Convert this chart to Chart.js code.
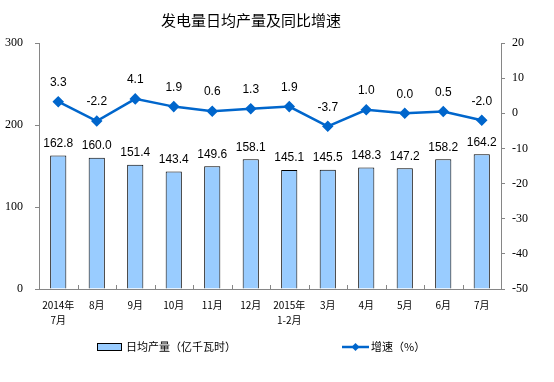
<!DOCTYPE html>
<html><head><meta charset="utf-8">
<script src="https://cdn.jsdelivr.net/npm/chart.js@4.4.1/dist/chart.umd.min.js"></script>
<style>html,body{margin:0;padding:0;background:#fff}</style>
</head><body>
<canvas id="c" width="554" height="382"></canvas>
<script>
const categories = [["2014年","7月"],"8月","9月","10月","11月","12月",["2015年","1-2月"],"3月","4月","5月","6月","7月"];
const dailyOutput = [162.8,160.0,151.4,143.4,149.6,158.1,145.1,145.5,148.3,147.2,158.2,164.2];
const growthRate = [3.3,-2.2,4.1,1.9,0.6,1.3,1.9,-3.7,1.0,0.0,0.5,-2.0];
const leftTicks = [0,100,200,300];
const rightTicks = [-50,-40,-30,-20,-10,0,10,20];
const titleText = "发电量日均产量及同比增速";
const barLegend = "日均产量（亿千瓦时）";
const lineLegend = "增速（%）";

const BAR_FILL = "#99CCFF", LINE_COL = "#0066CC", AXIS_COL = "#868686";
const CJK = '"Noto Sans CJK SC", sans-serif';

const extras = {
  id: "extras",
  afterDraw(chart) {
    const ctx = chart.ctx;
    const ca = chart.chartArea;
    ctx.save();
    // title
    ctx.fillStyle = "#000";
    ctx.font = "15px " + CJK;
    ctx.textAlign = "center";
    ctx.textBaseline = "middle";
    ctx.fillText(titleText, 251, 20);
    // x-axis small ticks between categories (pointing up)
    const xs = chart.scales.x;
    ctx.strokeStyle = AXIS_COL;
    ctx.lineWidth = 1;
    for (let i = 0; i <= categories.length; i++) {
      const px = Math.round(xs.getPixelForValue(i - 0.5)) + 0.5;
      ctx.beginPath(); ctx.moveTo(px, ca.bottom); ctx.lineTo(px, ca.bottom - 4); ctx.stroke();
    }
    // data labels
    ctx.font = "12px 'Liberation Sans', Arial, sans-serif";
    ctx.fillStyle = "#000";
    ctx.textAlign = "center";
    ctx.textBaseline = "middle";
    chart.getDatasetMeta(0).data.forEach((el, i) => {
      ctx.fillText(dailyOutput[i].toFixed(1), el.x, el.y - 12);
    });
    chart.getDatasetMeta(1).data.forEach((el, i) => {
      ctx.fillText(growthRate[i].toFixed(1), el.x, el.y - 19);
    });
    // legend
    const ly = 347;
    ctx.fillStyle = BAR_FILL; ctx.strokeStyle = "#000"; ctx.lineWidth = 1;
    ctx.fillRect(97.5, ly - 3.5, 24, 7); ctx.strokeRect(97.5, ly - 3.5, 24, 7);
    ctx.fillStyle = "#000";
    ctx.font = "11px " + CJK;
    ctx.textAlign = "left";
    ctx.fillText(barLegend, 126, ly);
    ctx.strokeStyle = LINE_COL; ctx.lineWidth = 2.5;
    ctx.beginPath(); ctx.moveTo(342, ly); ctx.lineTo(369, ly); ctx.stroke();
    ctx.fillStyle = LINE_COL;
    ctx.beginPath(); ctx.moveTo(355.5, ly - 4); ctx.lineTo(359.5, ly); ctx.lineTo(355.5, ly + 4); ctx.lineTo(351.5, ly); ctx.closePath(); ctx.fill();
    ctx.fillStyle = "#000";
    ctx.fillText(lineLegend, 371, ly);
    ctx.restore();
  }
};

new Chart(document.getElementById("c"), {
  type: "bar",
  data: {
    labels: categories,
    datasets: [
      { type: "bar", data: dailyOutput, yAxisID: "y", backgroundColor: BAR_FILL, borderColor: "#000", borderWidth: 1,
        categoryPercentage: 1, barPercentage: 0.42, order: 2 },
      { type: "line", data: growthRate, yAxisID: "y1", borderColor: LINE_COL, backgroundColor: LINE_COL, borderWidth: 2.5,
        pointStyle: "rectRot", pointRadius: 4, pointHoverRadius: 4, tension: 0, order: 1 }
    ]
  },
  options: {
    responsive: false, animation: false, devicePixelRatio: 1,
    layout: { padding: { top: 43, left: 0, right: 0, bottom: 0 } },
    plugins: { legend: { display: false }, title: { display: false }, tooltip: { enabled: false } },
    scales: {
      x: {
        offset: true,
        grid: { display: false, drawTicks: false },
        border: { color: AXIS_COL, width: 1 },
        ticks: { color: "#000", font: { family: CJK, size: 10, lineHeight: 1.5 }, padding: 9, maxRotation: 0, autoSkip: false },
        afterFit(s) { s.height = 93; }
      },
      y: {
        position: "left", min: 0, max: 300,
        afterBuildTicks(s) { s.ticks = leftTicks.map(v => ({ value: v })); },
        grid: { drawOnChartArea: false, drawTicks: true, tickLength: 4, color: AXIS_COL },
        border: { color: AXIS_COL, width: 1 },
        ticks: { color: "#000", font: { family: "'Liberation Serif', serif", size: 12 }, padding: 12 },
        afterFit(s) { s.width = 39; }
      },
      y1: {
        position: "right", min: -50, max: 20,
        afterBuildTicks(s) { s.ticks = rightTicks.map(v => ({ value: v })); },
        grid: { drawOnChartArea: false, drawTicks: true, tickLength: 4, color: AXIS_COL },
        border: { color: AXIS_COL, width: 1 },
        ticks: { color: "#000", font: { family: "'Liberation Serif', serif", size: 12 }, padding: 7 },
        afterFit(s) { s.width = 53; }
      }
    }
  },
  plugins: [extras]
});
</script>
</body></html>
